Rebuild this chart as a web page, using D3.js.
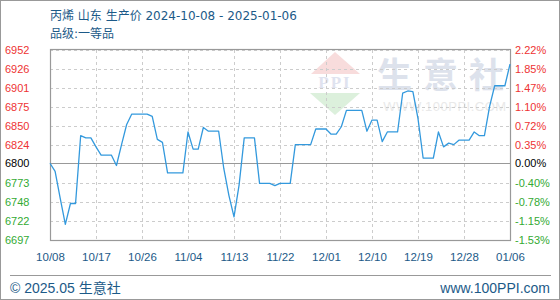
<!DOCTYPE html>
<html>
<head>
<meta charset="utf-8">
<script src="https://cdnjs.cloudflare.com/ajax/libs/d3/7.8.5/d3.min.js"></script>
<style>
    body { margin: 0; background: #fff; }
    svg text { font-family: "Liberation Sans", "Noto Sans CJK SC", sans-serif; }
</style>
</head>
<body>
<div id="chart"></div>
<script>
// 丙烯 山东 生产价, one value per day from startDate
var startDate = "2024-10-08";
var prices = [
    6800, 6789, 6753, 6718, 6746, 6746, 6837, 6834, 6834, 6822,
    6811, 6811, 6811, 6797, 6825, 6852, 6866, 6866, 6866, 6866,
    6863, 6832, 6828, 6787, 6787, 6787, 6787, 6842, 6819, 6819,
    6848, 6843, 6843, 6843, 6793, 6757, 6728, 6771, 6834, 6834,
    6834, 6773, 6773, 6773, 6770, 6773, 6773, 6773, 6825, 6825,
    6825, 6825, 6846, 6846, 6846, 6839, 6839, 6849, 6871, 6871,
    6871, 6871, 6843, 6858, 6858, 6829, 6842, 6842, 6842, 6894,
    6897, 6896, 6860, 6807, 6807, 6807, 6842, 6822, 6827, 6825,
    6831, 6831, 6831, 6842, 6837, 6837, 6876, 6904, 6904, 6904,
    6933
];
var leftTicks = [6952, 6926, 6901, 6875, 6850, 6824, 6800, 6773, 6748, 6722, 6697];
var rightLabels = ["2.22%", "1.85%", "1.47%", "1.10%", "0.72%", "0.35%", "0.00%",
    "-0.40%", "-0.78%", "-1.15%", "-1.53%"];
var xTickDates = ["2024-10-08", "2024-10-17", "2024-10-26", "2024-11-04", "2024-11-13",
    "2024-11-22", "2024-12-01", "2024-12-10", "2024-12-19", "2024-12-28", "2025-01-06"];
var baseValue = 6800;

var width = 560, height = 300;
var plotL = 50, plotR = 510, plotT = 50, plotB = 240;
var textBlue = "#1c5a88";

var parse = d3.timeParse("%Y-%m-%d");
var t0 = parse(startDate);
var series = prices.map(function (v, i) {
    return {date: d3.timeDay.offset(t0, i), value: v};
});

var x = d3.scaleTime()
        .domain([parse(xTickDates[0]), parse(xTickDates[xTickDates.length - 1])])
        .range([plotL, plotR]);
var y = d3.scaleLinear()
        .domain([6697, 6952])
        .range([plotB, plotT]);

var svg = d3.select("#chart").append("svg")
        .attr("width", width)
        .attr("height", height);

// outer frame
svg.append("rect")
        .attr("x", 0.5).attr("y", 0.5)
        .attr("width", width - 1).attr("height", height - 1)
        .attr("fill", "#fff")
        .attr("stroke", "#999");

// title
svg.append("text")
        .attr("x", 50).attr("y", 20)
        .attr("fill", textBlue)
        .style("font-family", "'DejaVu Sans', 'Noto Sans CJK SC', sans-serif")
        .style("font-size", "12px")
        .text("丙烯 山东 生产价 2024-10-08 - 2025-01-06");
svg.append("text")
        .attr("x", 50).attr("y", 38)
        .attr("fill", textBlue)
        .style("font-family", "'DejaVu Sans', 'Noto Sans CJK SC', sans-serif")
        .style("font-size", "12px")
        .text("品级:一等品");

// watermark
var wm = svg.append("g");
wm.append("path")
        .attr("d", "M335,52 L360,74 L311,74 Z")
        .attr("fill", "#f8dcdc");
wm.append("text")
        .attr("x", 335).attr("y", 88)
        .attr("text-anchor", "middle")
        .attr("fill", "#dfe3ef")
        .style("font-family", "'Liberation Serif', serif")
        .style("font-weight", "bold")
        .style("font-size", "17px")
        .style("letter-spacing", "2px")
        .text("PPI");
wm.append("path")
        .attr("d", "M310,93 L360,93 L335,115 Z")
        .attr("fill", "#dcf0dc");
wm.append("text")
        .attr("x", 446).attr("y", 88)
        .attr("text-anchor", "middle")
        .attr("fill", "#dde2ec")
        .style("font-family", "'Noto Sans CJK SC', sans-serif")
        .style("font-weight", "bold")
        .style("font-size", "35px")
        .style("letter-spacing", "11px")
        .text("生意社");
wm.append("text")
        .attr("x", 445).attr("y", 111)
        .attr("text-anchor", "middle")
        .attr("fill", "#e9e9e9")
        .style("font-size", "13px")
        .style("letter-spacing", "0.5px")
        .text("WWW.100PPI.COM");

// grid
var crisp = function (v) { return Math.round(v) + 0.5; };
svg.append("g").selectAll("line")
        .data(leftTicks.filter(function (d) { return d !== baseValue; }))
        .enter().append("line")
        .attr("x1", plotL).attr("x2", plotR)
        .attr("y1", function (d) { return crisp(y(d)); })
        .attr("y2", function (d) { return crisp(y(d)); })
        .attr("stroke", "#ccc")
        .attr("stroke-dasharray", "3,3");
svg.append("g").selectAll("line")
        .data(xTickDates.slice(1, -1))
        .enter().append("line")
        .attr("x1", function (d) { return crisp(x(parse(d))); })
        .attr("x2", function (d) { return crisp(x(parse(d))); })
        .attr("y1", plotT).attr("y2", plotB)
        .attr("stroke", "#ccc")
        .attr("stroke-dasharray", "3,3");

// base line and frame of plot
svg.append("line")
        .attr("x1", plotL).attr("x2", plotR)
        .attr("y1", crisp(y(baseValue))).attr("y2", crisp(y(baseValue)))
        .attr("stroke", "#999")
        .attr("stroke-width", 1.2);
svg.append("rect")
        .attr("x", plotL + 0.5).attr("y", plotT - 0.5)
        .attr("width", plotR - plotL).attr("height", plotB - plotT + 1)
        .attr("fill", "none")
        .attr("stroke", "#999")
        .attr("stroke-width", 1.2);

// price line
var line = d3.line()
        .x(function (d) { return x(d.date); })
        .y(function (d) { return y(d.value); });
svg.append("path")
        .datum(series)
        .attr("d", line)
        .attr("fill", "none")
        .attr("stroke", "#3399dd")
        .attr("stroke-width", 1.3)
        .attr("stroke-linejoin", "round");

function tickColor(d) {
    if (d > baseValue) return "#ee3333";
    if (d < baseValue) return "#33aa33";
    return "#000";
}

// left axis
var yLeft = svg.append("g")
        .attr("transform", "translate(5,0)")
        .call(d3.axisRight(y).tickValues(leftTicks).tickSize(0).tickPadding(0)
                .tickFormat(d3.format("d")));
yLeft.select(".domain").remove();
yLeft.selectAll("text")
        .attr("fill", tickColor)
        .style("font-size", "11px");

// right axis
var yRight = svg.append("g")
        .attr("transform", "translate(515,0)")
        .call(d3.axisRight(y).tickValues(leftTicks).tickSize(0).tickPadding(0)
                .tickFormat(function (d, i) { return rightLabels[i]; }));
yRight.select(".domain").remove();
yRight.selectAll("text")
        .attr("fill", tickColor)
        .style("font-size", "11px");

// x axis
var xAxis = svg.append("g")
        .attr("transform", "translate(0," + plotB + ")")
        .call(d3.axisBottom(x)
                .tickValues(xTickDates.map(parse))
                .tickSize(0).tickPadding(13)
                .tickFormat(d3.timeFormat("%m/%d")));
xAxis.select(".domain").remove();
xAxis.selectAll("text")
        .attr("fill", textBlue)
        .style("font-size", "11.5px");

// footer
svg.append("line")
        .attr("x1", 10).attr("x2", 551)
        .attr("y1", 275.5).attr("y2", 275.5)
        .attr("stroke", "#999");
svg.append("text")
        .attr("x", 10).attr("y", 293)
        .attr("fill", textBlue)
        .style("font-size", "14px")
        .text("© 2025.05 生意社");
svg.append("text")
        .attr("x", 550).attr("y", 293)
        .attr("text-anchor", "end")
        .attr("fill", textBlue)
        .style("font-size", "14px")
        .text("www.100PPI.com");
</script>
</body>
</html>
